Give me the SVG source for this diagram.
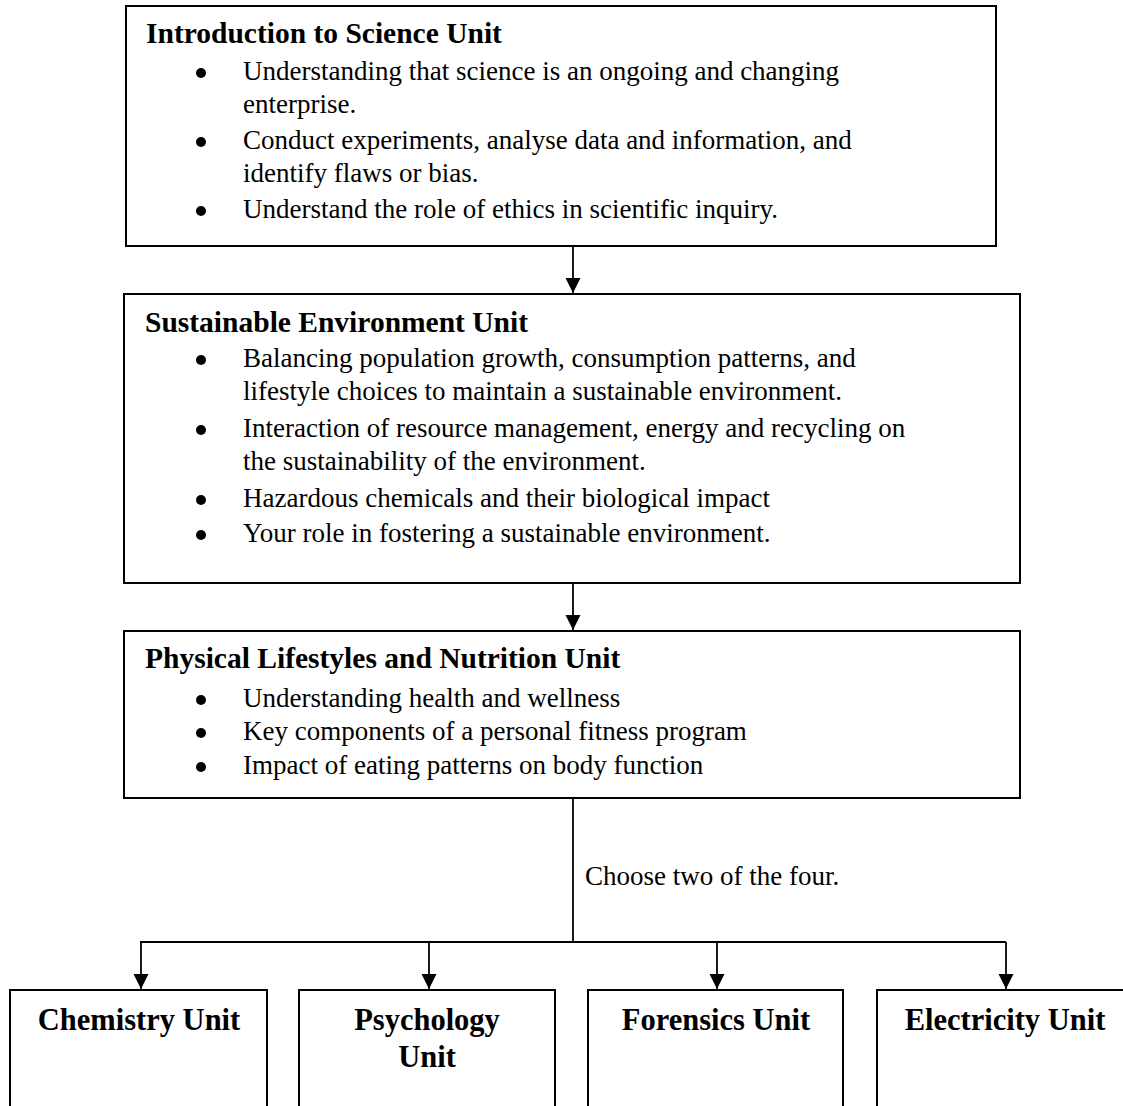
<svg xmlns="http://www.w3.org/2000/svg" width="1123" height="1106" viewBox="0 0 1123 1106">
<defs>
<marker id="arr" markerUnits="userSpaceOnUse" markerWidth="16" markerHeight="16" refX="15" refY="7.5" orient="auto">
<path d="M0,0 L15,7.5 L0,15 Z" fill="#000"/>
</marker>
<style>
.box{fill:#fff;stroke:#000;stroke-width:2}
.h{font-family:"Liberation Serif","Times New Roman",serif;font-weight:bold;font-size:29.5px;fill:#000}
.u{font-family:"Liberation Serif","Times New Roman",serif;font-weight:bold;font-size:30.5px;fill:#000;text-anchor:middle}
.t{font-family:"Liberation Serif","Times New Roman",serif;font-size:27px;fill:#000}
.b{fill:#000}
.c{fill:none;stroke:#000;stroke-width:1.8}
</style>
</defs>
<rect width="1123" height="1106" fill="#fff"/>

<g id="connectors">
<line class="c" x1="573" y1="246" x2="573" y2="293" marker-end="url(#arr)"/>
<line class="c" x1="573" y1="583" x2="573" y2="630" marker-end="url(#arr)"/>
<polyline class="c" points="573,798 573,942"/>
<line class="c" x1="140" y1="942" x2="1006" y2="942"/>
<line class="c" x1="141" y1="942" x2="141" y2="989" marker-end="url(#arr)"/>
<line class="c" x1="429" y1="942" x2="429" y2="989" marker-end="url(#arr)"/>
<line class="c" x1="717" y1="942" x2="717" y2="989" marker-end="url(#arr)"/>
<line class="c" x1="1006" y1="942" x2="1006" y2="989" marker-end="url(#arr)"/>
<text class="t" x="585" y="885">Choose two of the four.</text>
</g>

<g id="intro">
<rect class="box" x="126" y="6" width="870" height="240"/>
<text class="h" x="146" y="43">Introduction to Science Unit</text>
<circle class="b" cx="201" cy="73" r="5"/>
<text class="t" x="243" y="80">Understanding that science is an ongoing and changing</text>
<text class="t" x="243" y="113">enterprise.</text>
<circle class="b" cx="201" cy="142" r="5"/>
<text class="t" x="243" y="149">Conduct experiments, analyse data and information, and</text>
<text class="t" x="243" y="182">identify flaws or bias.</text>
<circle class="b" cx="201" cy="211" r="5"/>
<text class="t" x="243" y="218">Understand the role of ethics in scientific inquiry.</text>
</g>

<g id="sustainable">
<rect class="box" x="124" y="294" width="896" height="289"/>
<text class="h" x="145" y="332">Sustainable Environment Unit</text>
<circle class="b" cx="201" cy="360" r="5"/>
<text class="t" x="243" y="367">Balancing population growth, consumption patterns, and</text>
<text class="t" x="243" y="400">lifestyle choices to maintain a sustainable environment.</text>
<circle class="b" cx="201" cy="430" r="5"/>
<text class="t" x="243" y="437">Interaction of resource management, energy and recycling on</text>
<text class="t" x="243" y="470">the sustainability of the environment.</text>
<circle class="b" cx="201" cy="500" r="5"/>
<text class="t" x="243" y="507">Hazardous chemicals and their biological impact</text>
<circle class="b" cx="201" cy="535" r="5"/>
<text class="t" x="243" y="542">Your role in fostering a sustainable environment.</text>
</g>

<g id="physical">
<rect class="box" x="124" y="631" width="896" height="167"/>
<text class="h" x="145" y="668">Physical Lifestyles and Nutrition Unit</text>
<circle class="b" cx="201" cy="700" r="5"/>
<text class="t" x="243" y="707">Understanding health and wellness</text>
<circle class="b" cx="201" cy="733" r="5"/>
<text class="t" x="243" y="740">Key components of a personal fitness program</text>
<circle class="b" cx="201" cy="767" r="5"/>
<text class="t" x="243" y="774">Impact of eating patterns on body function</text>
</g>

<g id="chemistry">
<rect class="box" x="10" y="990" width="257" height="200"/>
<text class="u" x="139" y="1030">Chemistry Unit</text>
</g>
<g id="psychology">
<rect class="box" x="299" y="990" width="256" height="200"/>
<text class="u" x="427" y="1030">Psychology</text>
<text class="u" x="427" y="1067">Unit</text>
</g>
<g id="forensics">
<rect class="box" x="588" y="990" width="255" height="200"/>
<text class="u" x="716" y="1030">Forensics Unit</text>
</g>
<g id="electricity">
<rect class="box" x="877" y="990" width="257" height="200"/>
<text class="u" x="1005" y="1030">Electricity Unit</text>
</g>
</svg>
